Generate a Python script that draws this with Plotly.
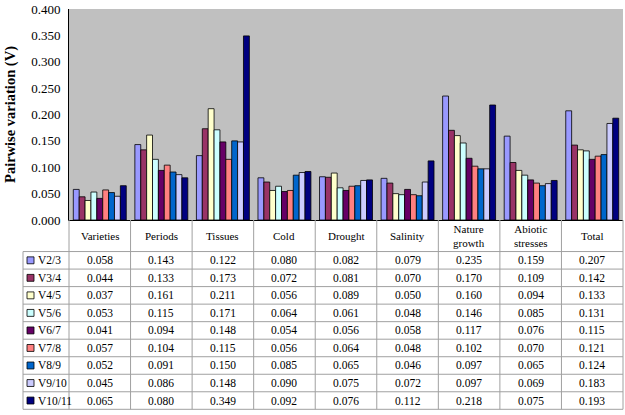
import plotly.graph_objects as go

categories = ["Varieties", "Periods", "Tissues", "Cold", "Drought", "Salinity",
              "Nature growth", "Abiotic stresses", "Total"]
header_labels = ["Varieties", "Periods", "Tissues", "Cold", "Drought", "Salinity",
                 "Nature<br>growth", "Abiotic<br>stresses", "Total"]
series_names = ["V2/3", "V3/4", "V4/5", "V5/6", "V6/7", "V7/8", "V8/9", "V9/10", "V10/11"]
values = {
    "V2/3":   [0.058, 0.143, 0.122, 0.080, 0.082, 0.079, 0.235, 0.159, 0.207],
    "V3/4":   [0.044, 0.133, 0.173, 0.072, 0.081, 0.070, 0.170, 0.109, 0.142],
    "V4/5":   [0.037, 0.161, 0.211, 0.056, 0.089, 0.050, 0.160, 0.094, 0.133],
    "V5/6":   [0.053, 0.115, 0.171, 0.064, 0.061, 0.048, 0.146, 0.085, 0.131],
    "V6/7":   [0.041, 0.094, 0.148, 0.054, 0.056, 0.058, 0.117, 0.076, 0.115],
    "V7/8":   [0.057, 0.104, 0.115, 0.056, 0.064, 0.048, 0.102, 0.070, 0.121],
    "V8/9":   [0.052, 0.091, 0.150, 0.085, 0.065, 0.046, 0.097, 0.065, 0.124],
    "V9/10":  [0.045, 0.086, 0.148, 0.090, 0.075, 0.072, 0.097, 0.069, 0.183],
    "V10/11": [0.065, 0.080, 0.349, 0.092, 0.076, 0.112, 0.218, 0.075, 0.193],
}
colors = ["#9999FF", "#993366", "#FFFFCC", "#CCFFFF", "#660066",
          "#FF8080", "#0066CC", "#CCCCFF", "#000080"]
y_ticks = [0.0, 0.05, 0.10, 0.15, 0.20, 0.25, 0.30, 0.35, 0.40]
y_ticktext = [f"{v:.3f}" for v in y_ticks]

W, H = 625, 415
L, R = 69, 623          # plot area pixel x
T, B = 6, 220           # plot area pixel y
FONT = "Liberation Serif, Times New Roman, serif"

def px(x):
    return (x - L) / (R - L)

def py(y):
    return (B - y) / (B - T)

fig = go.Figure()
for name, col in zip(series_names, colors):
    fig.add_trace(go.Bar(x=categories, y=values[name], name=name,
                         marker=dict(color=col, line=dict(color="black", width=0.8)),
                         showlegend=False))

shapes = []
annotations = []
line_col = "#A0A0A0"
header_bottom = 252
table_bottom = 412
row_h = (table_bottom - header_bottom) / len(series_names)
col_w = (R - L) / len(categories)
leg_left = 23

# vertical lines
for i in range(len(categories) + 1):
    x = L + i * col_w
    shapes.append(dict(type="line", xref="paper", yref="paper",
                       x0=px(x), x1=px(x), y0=py(B), y1=py(table_bottom),
                       line=dict(color=line_col, width=1)))
shapes.append(dict(type="line", xref="paper", yref="paper",
                   x0=px(leg_left), x1=px(leg_left), y0=py(header_bottom), y1=py(table_bottom),
                   line=dict(color=line_col, width=1)))
# horizontal lines
for j in range(len(series_names) + 1):
    y = header_bottom + j * row_h
    shapes.append(dict(type="line", xref="paper", yref="paper",
                       x0=px(leg_left), x1=px(R), y0=py(y), y1=py(y),
                       line=dict(color=line_col, width=1)))

# header labels
for i, lab in enumerate(header_labels):
    xc = L + (i + 0.5) * col_w
    annotations.append(dict(xref="paper", yref="paper", x=px(xc), y=py((B + header_bottom) / 2),
                            text=lab, showarrow=False, xanchor="center", yanchor="middle",
                            font=dict(family=FONT, size=11, color="black")))

# rows
for j, (name, col) in enumerate(zip(series_names, colors)):
    yc = header_bottom + (j + 0.5) * row_h
    shapes.append(dict(type="rect", xref="paper", yref="paper",
                       x0=px(27), x1=px(34), y0=py(yc - 3.5), y1=py(yc + 3.5),
                       fillcolor=col, line=dict(color="black", width=0.8)))
    annotations.append(dict(xref="paper", yref="paper", x=px(36), y=py(yc),
                            text=name, showarrow=False, xanchor="left", yanchor="middle",
                            font=dict(family=FONT, size=11.5, color="black")))
    for i, v in enumerate(values[name]):
        xc = L + (i + 0.5) * col_w
        annotations.append(dict(xref="paper", yref="paper", x=px(xc), y=py(yc),
                                text=f"{v:.3f}", showarrow=False, xanchor="center", yanchor="middle",
                                font=dict(family=FONT, size=11.5, color="black")))

fig.update_layout(
    width=W, height=H,
    margin=dict(l=L, r=W - R, t=T, b=H - B, pad=0),
    paper_bgcolor="white",
    plot_bgcolor="#C0C0C0",
    barmode="group", bargap=0.14, bargroupgap=0,
    font=dict(family=FONT, size=13, color="black"),
    shapes=shapes, annotations=annotations,
    xaxis=dict(showticklabels=False, showgrid=False, zeroline=False,
               showline=True, linecolor="black", linewidth=1, ticks=""),
    yaxis=dict(range=[0, 0.4], tickmode="array", tickvals=y_ticks, ticktext=y_ticktext,
               showgrid=False, zeroline=False, showline=True, linecolor="black",
               linewidth=1, ticks="outside", ticklen=5, tickcolor="rgba(0,0,0,0)",
               ticklabeloverflow="allow",
               tickfont=dict(family=FONT, size=13),
               title=dict(text="<b>Pairwise variation (V)</b>", standoff=12,
                          font=dict(family=FONT, size=14.5))),
)
fig.write_html("out.html", config={"displayModeBar": False},
               post_script="document.body.style.margin='0';document.body.style.overflow='hidden';")
